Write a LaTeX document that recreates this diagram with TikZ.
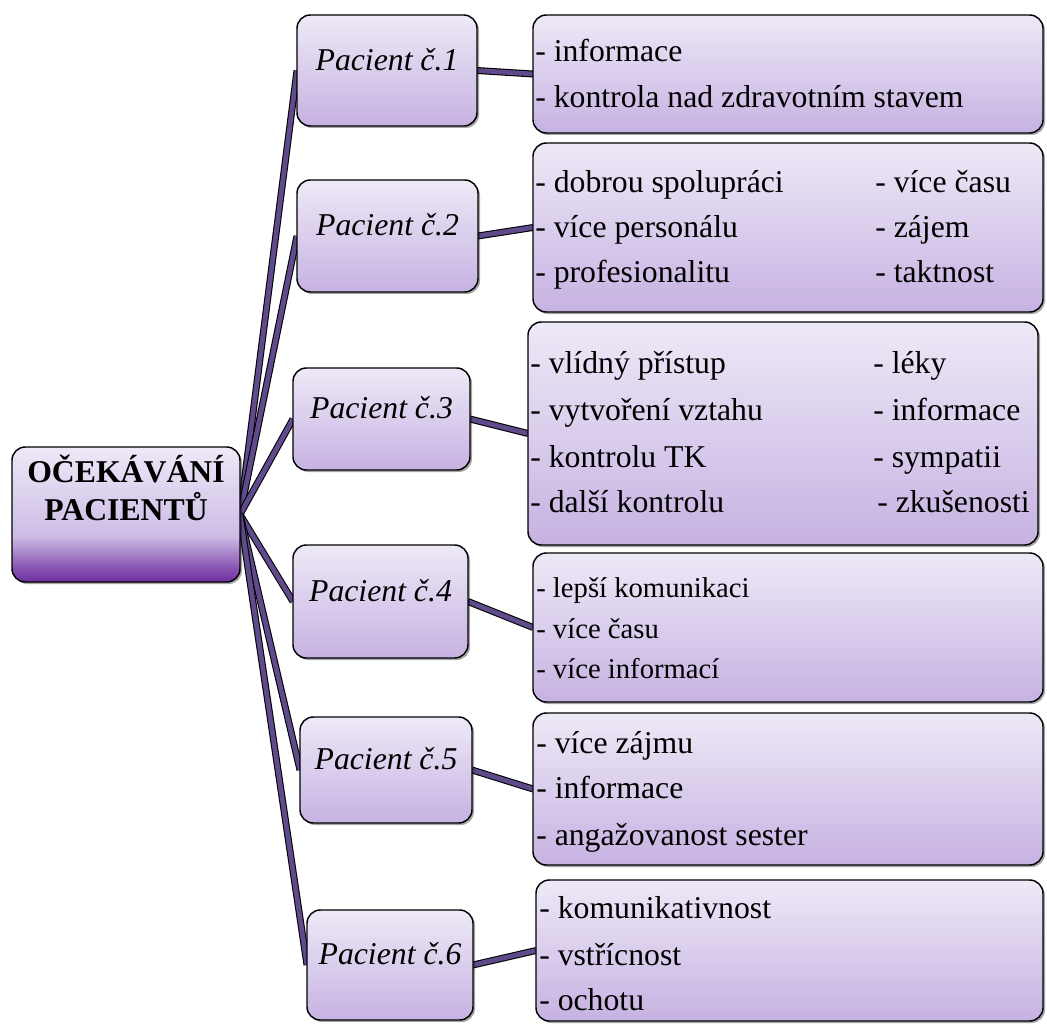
\documentclass[tikz,border=0pt]{standalone}
\usepackage{fontspec}
\setmainfont{Liberation Serif}
\usetikzlibrary{fit,shadows,backgrounds}
\definecolor{boxtop}{HTML}{EEE9F7}
\definecolor{boxbot}{HTML}{C6B2E2}
\definecolor{rootbot}{HTML}{6F2F9F}
\definecolor{rootmid}{HTML}{CDBCE6}
\definecolor{roottop}{HTML}{EEE9F7}
\definecolor{connc}{HTML}{5F4A8C}
\pgfdeclareverticalshading{rootsh}{100bp}{color(0bp)=(rootbot); color(25bp)=(rootbot); color(30bp)=(rootbot!75!rootmid); color(42bp)=(rootmid); color(75bp)=(roottop); color(100bp)=(roottop)}
\newcommand\shrk[1]{\scalebox{0.85}{#1}}
\tikzset{
  basebox/.style={draw=black, line width=1.1pt, rounded corners=10pt, inner sep=0pt, outer sep=0pt,
    drop shadow={shadow xshift=1.5pt, shadow yshift=-1.5pt, opacity=0.35, fill=black}},
  lbox/.style={basebox, top color=boxtop, bottom color=boxbot},
  rootbox/.style={basebox, shading=rootsh, font=\fontsize{28}{28}\selectfont\bfseries},
  pbox/.style={lbox, font=\fontsize{28}{33}\selectfont\itshape},
  itm/.style={anchor=base west, inner sep=0pt, font=\fontsize{28}{33}\selectfont},
  itms/.style={anchor=base west, inner sep=0pt, font=\fontsize{21.5}{26}\selectfont},
  conn/.style={draw=black, line width=0.8pt, double=connc, double distance=3.6pt}
}
\begin{document}
\begin{tikzpicture}[x=0.75pt, y=-0.75pt]
\useasboundingbox (0,0) rectangle (1047,1024);
% root
\node[rootbox, fit={(12,447) (240,582)}] (root) {\shrk{\begin{tabular}{@{}c@{}}OČEKÁVÁNÍ\\PACIENTŮ\end{tabular}}};
% patient boxes
\node[pbox, fit={(297,15) (477,126)}] (p1) {\shrk{Pacient č.1}};
\node[pbox, fit={(297,180) (478,292)}] (p2) {\shrk{Pacient č.2}};
\node[pbox, fit={(293,368) (470,470)}] (p3) {\shrk{Pacient č.3}};
\node[pbox, fit={(293,545) (468,658)}] (p4) {\shrk{Pacient č.4}};
\node[pbox, fit={(300,717) (472,823)}] (p5) {\shrk{Pacient č.5}};
\node[pbox, fit={(307,910) (473,1020)}] (p6) {\shrk{Pacient č.6}};
% right boxes
\node[lbox, fit={(533,15) (1043,133)}] (r1) {};
\node[lbox, fit={(533,143) (1043,312)}] (r2) {};
\node[lbox, fit={(528,322) (1038,545)}] (r3) {};
\node[lbox, fit={(533,553) (1043,702)}] (r4) {};
\node[lbox, fit={(533,713) (1043,865)}] (r5) {};
\node[lbox, fit={(536,880) (1043,1021)}] (r6) {};
% texts
\node[itm] (r1a) at (535,62) {\shrk{- informace}};
\node[itm] (r1b) at (535,108) {\shrk{- kontrola nad zdravotním stavem}};
\node[itm] (r2a) at (535,192) {\shrk{- dobrou spolupráci}};
\node[itm] (r2b) at (535,237) {\shrk{- více personálu}};
\node[itm] (r2c) at (535,282) {\shrk{- profesionalitu}};
\node[itm] (r2d) at (875,192) {\shrk{- více času}};
\node[itm] (r2e) at (875,237) {\shrk{- zájem}};
\node[itm] (r2f) at (875,282) {\shrk{- taktnost}};
\node[itm] (r3a) at (530,373) {\shrk{- vlídný přístup}};
\node[itm] (r3b) at (530,420) {\shrk{- vytvoření vztahu}};
\node[itm] (r3c) at (530,467) {\shrk{- kontrolu TK}};
\node[itm] (r3d) at (530,512) {\shrk{- další kontrolu}};
\node[itm] (r3e) at (873,373) {\shrk{- léky}};
\node[itm] (r3f) at (873,420) {\shrk{- informace}};
\node[itm] (r3g) at (873,467) {\shrk{- sympatii}};
\node[itm] (r3h) at (877,512) {\shrk{- zkušenosti}};
\node[itms] (r4a) at (536,597) {- lepší komunikaci};
\node[itms] (r4b) at (536,638) {- více času};
\node[itms] (r4c) at (536,678) {- více informací};
\node[itm] (r5a) at (536,753) {\shrk{- více zájmu}};
\node[itm] (r5b) at (536,798) {\shrk{- informace}};
\node[itm] (r5c) at (536,845) {\shrk{- angažovanost sester}};
\node[itm] (r6a) at (539,918) {\shrk{- komunikativnost}};
\node[itm] (r6b) at (539,965) {\shrk{- vstřícnost}};
\node[itm] (r6c) at (539,1010) {\shrk{- ochotu}};
% connectors
\begin{scope}[on background layer]
\foreach \p in {p1,p2,p3,p4,p5,p6} \draw[conn] (root.east) -- (\p.west);
\draw[conn] (p1.east) -- (r1.west);
\draw[conn] (p2.east) -- (r2.west);
\draw[conn] (p3.east) -- (r3.west);
\draw[conn] (p4.east) -- (r4.west);
\draw[conn] (p5.east) -- (r5.west);
\draw[conn] (p6.east) -- (r6.west);
\end{scope}
\end{tikzpicture}
\end{document}
